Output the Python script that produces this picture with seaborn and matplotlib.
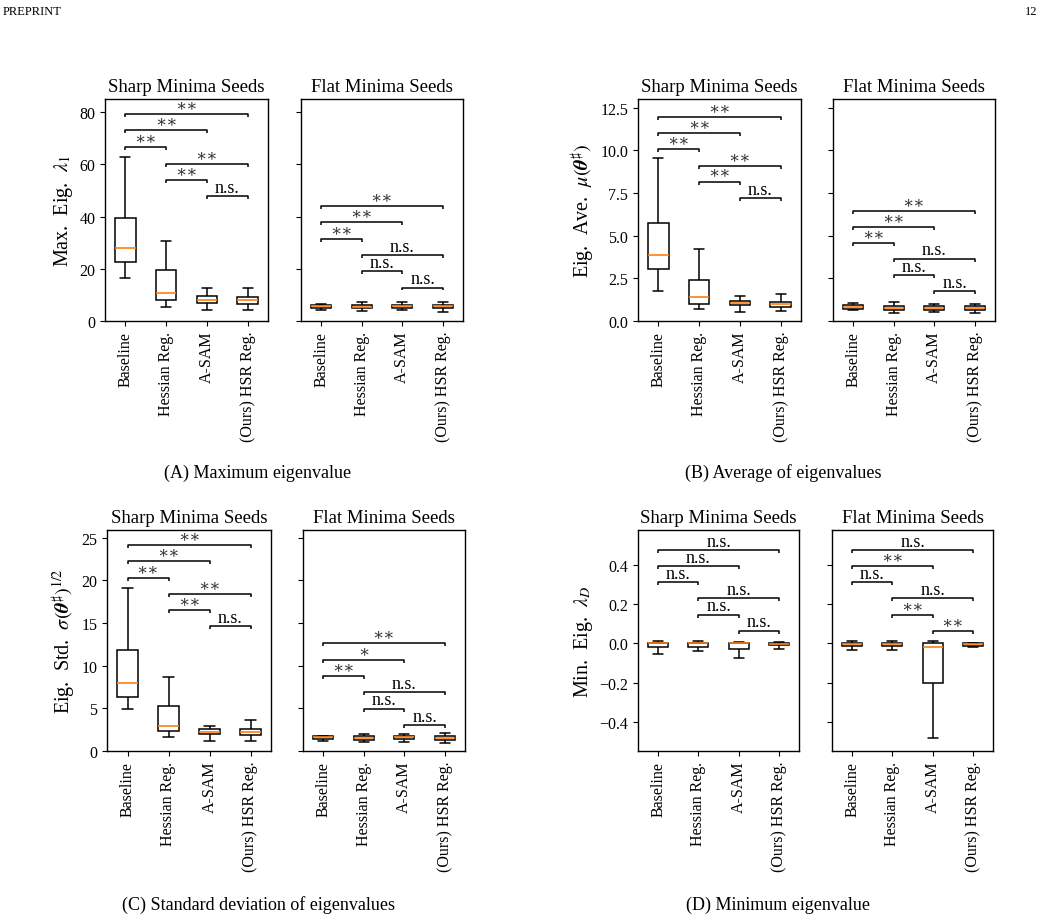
import numpy as np
import pandas as pd
import matplotlib
matplotlib.use("Agg")
import matplotlib.pyplot as plt
import seaborn as sns

# ---------------- data ----------------
methods = ["Baseline", "Hessian Reg.", "A-SAM", "(Ours) HSR Reg."]

# five-number summaries per method: [low whisker, Q1, median, Q3, high whisker]
max_eig_sharp = [[16.3, 22.7, 27.9, 39.4, 62.7],
                 [5.2, 8.1, 10.6, 19.7, 30.7],
                 [4.2, 6.9, 8.1, 9.5, 12.5],
                 [4.2, 6.4, 8.1, 9.3, 12.8]]
max_eig_flat = [[4.3, 5.0, 5.7, 6.1, 6.6],
                [3.8, 4.8, 5.5, 6.0, 7.1],
                [4.2, 5.0, 5.6, 6.1, 7.1],
                [3.4, 4.8, 5.6, 6.1, 7.3]]

avg_eig_sharp = [[1.73, 3.06, 3.87, 5.76, 9.52],
                 [0.70, 1.01, 1.42, 2.43, 4.23],
                 [0.55, 0.92, 1.05, 1.19, 1.48],
                 [0.60, 0.84, 0.97, 1.13, 1.56]]
avg_eig_flat = [[0.62, 0.72, 0.82, 0.92, 1.05],
                [0.49, 0.62, 0.76, 0.86, 1.09],
                [0.53, 0.66, 0.76, 0.86, 0.97],
                [0.47, 0.62, 0.76, 0.86, 1.01]]

std_eig_sharp = [[4.95, 6.31, 7.94, 11.8, 19.16],
                 [1.60, 2.34, 2.96, 5.26, 8.68],
                 [1.17, 1.95, 2.26, 2.61, 2.96],
                 [1.17, 1.83, 2.18, 2.57, 3.58]]
std_eig_flat = [[1.17, 1.44, 1.60, 1.71, 1.79],
                [1.01, 1.32, 1.56, 1.71, 1.99],
                [1.09, 1.36, 1.60, 1.75, 1.99],
                [0.93, 1.32, 1.56, 1.75, 2.06]]

min_eig_sharp = [[-0.056, -0.020, 0.000, 0.003, 0.012],
                 [-0.040, -0.017, 0.000, 0.002, 0.010],
                 [-0.077, -0.031, 0.000, 0.002, 0.007],
                 [-0.026, -0.010, -0.002, 0.002, 0.007]]
min_eig_flat = [[-0.036, -0.014, -0.003, 0.003, 0.012],
                [-0.032, -0.014, -0.003, 0.002, 0.012],
                [-0.485, -0.200, -0.017, 0.003, 0.010],
                [-0.020, -0.012, -0.005, 0.000, 0.003]]

# significance comparisons (pairs of method indices), drawn top to bottom
pairs = [(0, 3), (0, 2), (0, 1), (1, 3), (1, 2), (2, 3)]
max_eig_sharp_sig = ["**", "**", "**", "**", "**", "n.s."]
max_eig_flat_sig = ["**", "**", "**", "n.s.", "n.s.", "n.s."]
avg_eig_sharp_sig = ["**", "**", "**", "**", "**", "n.s."]
avg_eig_flat_sig = ["**", "**", "**", "n.s.", "n.s.", "n.s."]
std_eig_sharp_sig = ["**", "**", "**", "**", "**", "n.s."]
std_eig_flat_sig = ["**", "*", "**", "n.s.", "n.s.", "n.s."]
min_eig_sharp_sig = ["n.s.", "n.s.", "n.s.", "n.s.", "n.s.", "n.s."]
min_eig_flat_sig = ["n.s.", "**", "n.s.", "n.s.", "**", "**"]

# bracket heights (data units), same order as pairs
max_eig_sharp_br = [79.2, 73.2, 66.8, 60.2, 54.1, 47.9]
max_eig_flat_br = [44.0, 37.9, 31.5, 25.3, 19.1, 12.8]
avg_eig_sharp_br = [11.94, 11.0, 10.07, 9.09, 8.16, 7.2]
avg_eig_flat_br = [6.45, 5.52, 4.58, 3.65, 2.67, 1.73]
std_eig_sharp_br = [24.1, 22.27, 20.29, 18.38, 16.47, 14.6]
std_eig_flat_br = [12.66, 10.7, 8.8, 6.89, 4.95, 3.04]
min_eig_sharp_br = [0.478, 0.395, 0.313, 0.23, 0.146, 0.065]
min_eig_flat_br = [0.478, 0.397, 0.313, 0.23, 0.146, 0.065]

ylabels = [r"Max.  Eig.  $\lambda_1$",
           r"Eig.  Ave.  $\mu(\boldsymbol{\theta}^\sharp)$",
           r"Eig.  Std.  $\sigma(\boldsymbol{\theta}^\sharp)^{1/2}$",
           r"Min.  Eig.  $\lambda_D$"]
captions = ["(A) Maximum eigenvalue", "(B) Average of eigenvalues",
            "(C) Standard deviation of eigenvalues", "(D) Minimum eigenvalue"]
titles = ["Sharp Minima Seeds", "Flat Minima Seeds"]

# ---------------- style ----------------
sns.set_style("ticks", {"axes.edgecolor": "black", "xtick.color": "black",
                        "ytick.color": "black", "text.color": "black",
                        "axes.labelcolor": "black"})
plt.rcParams["font.family"] = ["Liberation Serif", "DejaVu Serif"]
plt.rcParams["mathtext.fontset"] = "stix"
plt.rcParams["axes.linewidth"] = 1.0

W, H = 1041, 920
fig = plt.figure(figsize=(W / 100, H / 100), dpi=100)


def rect(l, r, t, b):
    return [l / W, 1 - b / H, (r - l) / W, (b - t) / H]


panels = [
    dict(sharp=max_eig_sharp, flat=max_eig_flat,
         ss=max_eig_sharp_sig, fs=max_eig_flat_sig,
         sb=max_eig_sharp_br, fb=max_eig_flat_br,
         ylim=(0, 85.1), ticks=[0, 20, 40, 60, 80],
         rs=(105, 268), rf=(301, 463), tb=(100, 322), cap=(258, 473)),
    dict(sharp=avg_eig_sharp, flat=avg_eig_flat,
         ss=avg_eig_sharp_sig, fs=avg_eig_flat_sig,
         sb=avg_eig_sharp_br, fb=avg_eig_flat_br,
         ylim=(0, 13.0), ticks=[0, 2.5, 5, 7.5, 10, 12.5],
         rs=(638, 801), rf=(833, 995), tb=(100, 322), cap=(783, 473)),
    dict(sharp=std_eig_sharp, flat=std_eig_flat,
         ss=std_eig_sharp_sig, fs=std_eig_flat_sig,
         sb=std_eig_sharp_br, fb=std_eig_flat_br,
         ylim=(0, 25.9), ticks=[0, 5, 10, 15, 20, 25],
         rs=(107, 271), rf=(303, 465), tb=(531, 752), cap=(258, 905)),
    dict(sharp=min_eig_sharp, flat=min_eig_flat,
         ss=min_eig_sharp_sig, fs=min_eig_flat_sig,
         sb=min_eig_sharp_br, fb=min_eig_flat_br,
         ylim=(-0.55, 0.58), ticks=[-0.4, -0.2, 0.0, 0.2, 0.4],
         rs=(638, 799), rf=(832, 993), tb=(531, 752), cap=(778, 905)),
]


def to_df(summaries):
    rows = []
    for m, vals in zip(methods, summaries):
        for v in vals:
            rows.append({"method": m, "value": v})
    return pd.DataFrame(rows)


def draw(ax, summaries, sigs, levels, ylim):
    df = to_df(summaries)
    sns.boxplot(data=df, x="method", y="value", order=methods, ax=ax,
                color="white", linecolor="black", linewidth=1.1,
                width=0.5, whis=(0, 100), showfliers=False,
                medianprops={"color": "#ff7f0e", "linewidth": 1.2})
    ax.set_ylim(*ylim)
    span = ylim[1] - ylim[0]
    tip = 0.013 * span
    for (i, j), s, y in zip(pairs, sigs, levels):
        ax.plot([i, i, j, j], [y - tip, y, y, y - tip], color="black",
                lw=1.1, solid_capstyle="butt")
        if s == "n.s.":
            ax.text((i + j) / 2, y + 0.002 * span, s,
                    ha="center", va="bottom", fontsize=13, color="black")
        else:
            ax.text((i + j) / 2, y + 0.004 * span, "\u2217" * len(s),
                    ha="center", va="bottom", fontsize=12, color="#333333",
                    family=["DejaVu Serif"])
    ax.set_xlim(-0.5, 3.5)
    ax.set_xlabel("")
    ax.set_ylabel("")
    ax.tick_params(axis="x", labelrotation=90, labelsize=11.5)
    ax.tick_params(axis="y", labelsize=11.5)
    for sp in ax.spines.values():
        sp.set_visible(True)
        sp.set_color("black")


for k, p in enumerate(panels):
    t, b = p["tb"]
    ax_s = fig.add_axes(rect(p["rs"][0], p["rs"][1], t, b))
    ax_f = fig.add_axes(rect(p["rf"][0], p["rf"][1], t, b))
    draw(ax_s, p["sharp"], p["ss"], p["sb"], p["ylim"])
    draw(ax_f, p["flat"], p["fs"], p["fb"], p["ylim"])
    for ax in (ax_s, ax_f):
        ax.set_yticks(p["ticks"])
    ax_f.set_yticklabels([])
    ax_s.set_ylabel(ylabels[k], fontsize=14.5, labelpad=3)
    ax_s.set_title(titles[0], fontsize=13.5)
    ax_f.set_title(titles[1], fontsize=13.5)
    cx, cy = p["cap"]
    fig.text(cx / W, 1 - cy / H, captions[k], ha="center", va="center",
             fontsize=13)

fig.text(3 / W, 1 - 12 / H, "PREPRINT", ha="left", va="center", fontsize=9)
fig.text(1037 / W, 1 - 12 / H, "12", ha="right", va="center", fontsize=9)

fig.savefig("out.png", dpi=100)
